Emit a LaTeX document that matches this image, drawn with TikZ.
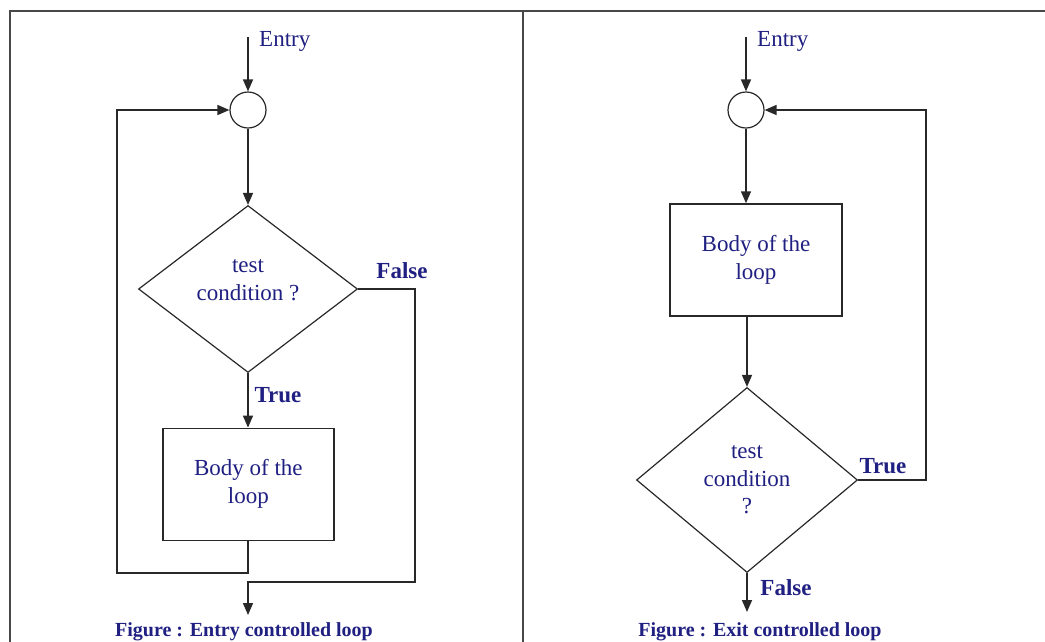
\documentclass[tikz,border=0pt]{standalone}
\usepackage{fontspec}
\setmainfont{Liberation Serif}
\usetikzlibrary{shapes.geometric,arrows.meta}
\definecolor{txtblue}{RGB}{32,32,130}
\definecolor{linegray}{RGB}{40,40,40}
\begin{document}
\begin{tikzpicture}[x=1pt,y=1pt,
  ln/.style={draw=linegray,line width=1.5pt},
  arr/.style={ln,-{Triangle[length=12pt,width=10pt]}},
  junction/.style={circle,draw=linegray,line width=1.2pt,minimum size=36pt,inner sep=0pt},
  decision/.style={diamond,draw=linegray,line width=1.2pt,inner sep=0pt},
  bodybox/.style={rectangle,draw=linegray,line width=1.5pt,inner sep=0pt,
     text=txtblue,align=center,font=\fontsize{23}{28}\selectfont},
  txt/.style={text=txtblue,align=center,inner sep=0pt,font=\fontsize{23}{27.5}\selectfont},
  lbl/.style={text=txtblue,inner sep=0pt,font=\fontsize{23}{27}\selectfont\bfseries},
  caption/.style={text=txtblue,inner sep=0pt,anchor=base,font=\fontsize{20}{24}\selectfont\bfseries}]
\useasboundingbox[fill=white] (0,0) rectangle (1045,-641);
% frame
\draw[draw=linegray!85,line width=1.4pt] (10,-645) -- (10,-11) -- (1045,-11);
\draw[draw=linegray!85,line width=1.4pt] (523,-11) -- (523,-645);

% ---------- left: entry controlled loop ----------
\coordinate (e1) at (248,-37);
\node[junction] (c1) at (248,-110) {};
\node[decision,minimum width=219pt,minimum height=167pt] (d1) at (248,-289) {};
\node[txt] (d1t) at (248,-280) {test\\condition ?};
\node[bodybox,minimum width=171pt,minimum height=112pt] (b1) at (248.3,-484.3) {Body of the\\loop};
\coordinate (f1) at (415,-289);
\coordinate (g1) at (415,-582);
\coordinate (x1) at (248,-615);
\coordinate (r1) at (117,-573);
\draw[arr] (e1) -- (c1.north);
\draw[arr] (c1.south) -- (d1.north);
\draw[arr] (d1.south) -- (d1.south |- b1.north);
\draw[arr] (d1.east) -- (f1) -- (g1) -- (x1 |- g1) -- (x1);
\draw[arr] (b1.south -| x1) -- (x1 |- r1) -- (r1) |- (c1.west);
\node[txt,anchor=west] (en1) at (259,-41) {Entry};
\node[lbl] (fl1) at (402,-271) {False};
\node[lbl] (tr1) at (278,-395) {True};
\node[caption] (cap1) at (244,-636) {Figure : Entry controlled loop};

% ---------- right: exit controlled loop ----------
\coordinate (e2) at (746,-37);
\node[junction] (c2) at (746,-110) {};
\node[bodybox,minimum width=172pt,minimum height=112pt] (b2) at (756,-260) {Body of the\\loop};
\node[decision,minimum width=221pt,minimum height=185pt] (d2) at (747,-480) {};
\node[txt] (d2t) at (747,-480) {test\\condition\\?};
\coordinate (t2) at (926,-480);
\coordinate (x2) at (747,-612);
\draw[arr] (e2) -- (c2.north);
\draw[arr] (c2.south) -- (c2.south |- b2.north);
\draw[arr] (b2.south -| d2.north) -- (d2.north);
\draw[arr] (d2.east) -- (t2) |- (c2.east);
\draw[arr] (d2.south) -- (x2);
\node[txt,anchor=west] (en2) at (757,-41) {Entry};
\node[lbl] (tr2) at (883,-466) {True};
\node[lbl] (fl2) at (786,-588) {False};
\node[caption] (cap2) at (760,-636) {Figure : Exit controlled loop};
\end{tikzpicture}
\end{document}
